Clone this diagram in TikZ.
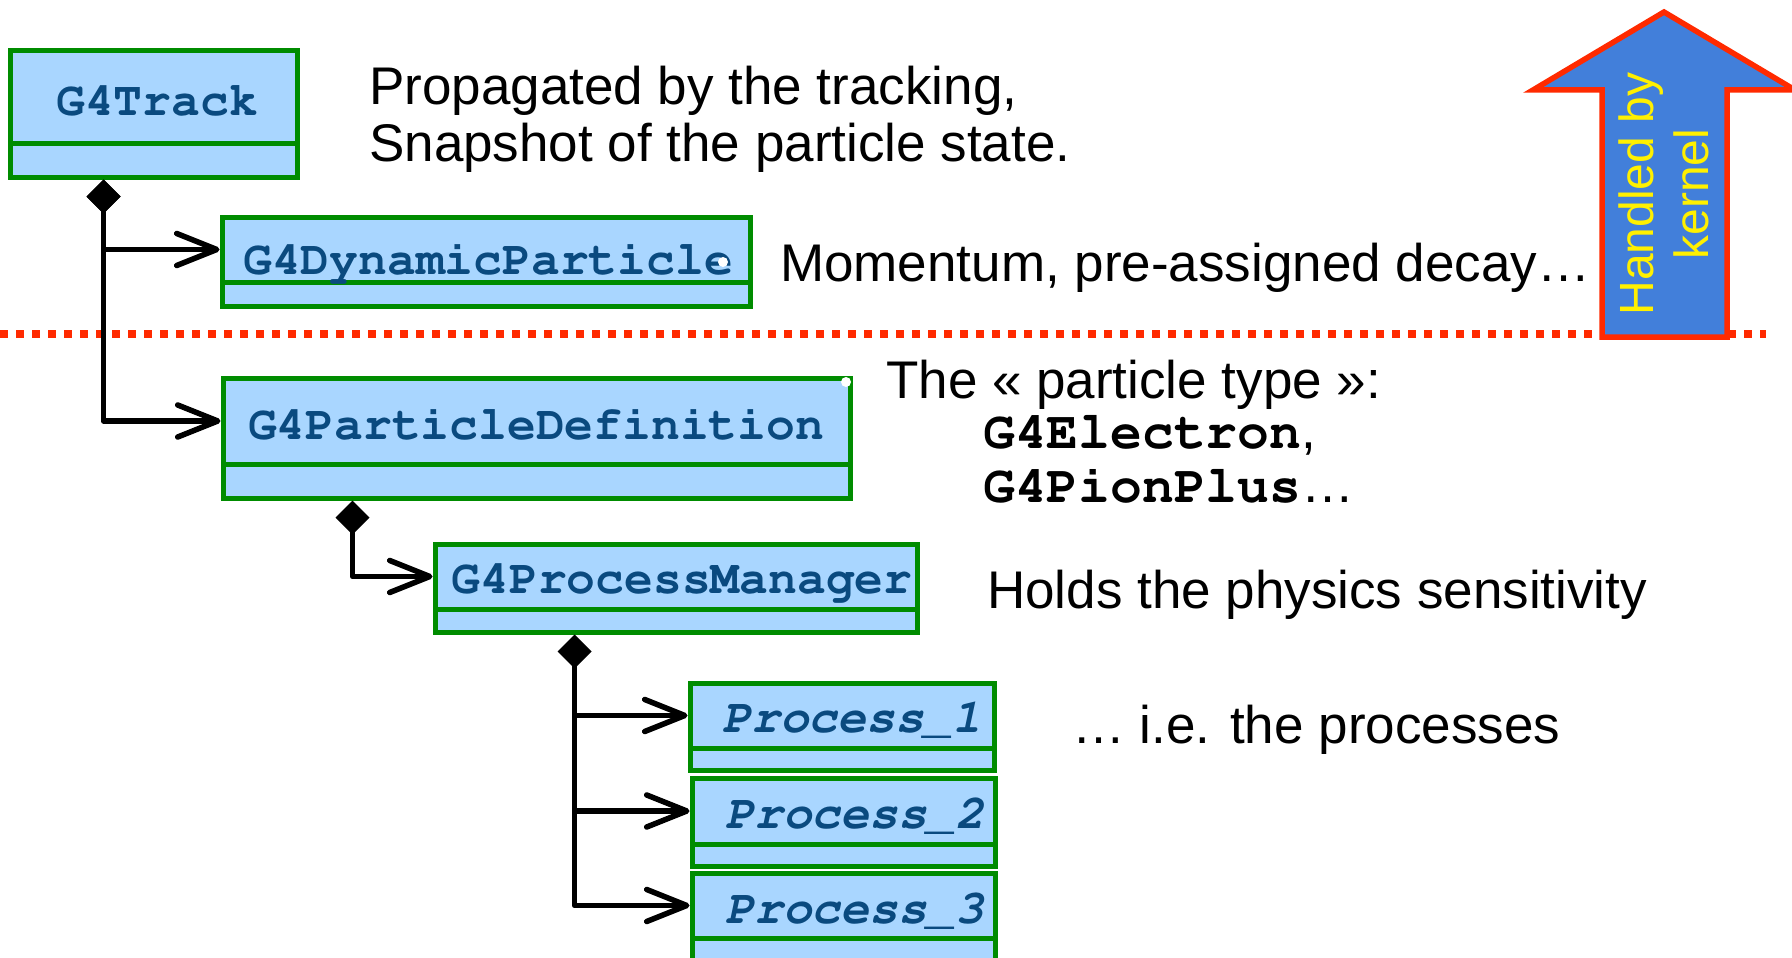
\documentclass[tikz,border=0pt]{standalone}
\usepackage[T1]{fontenc}
\usepackage{fontspec}
\setmainfont{Liberation Sans}
\setmonofont{Liberation Mono}
\usetikzlibrary{arrows.meta}
\definecolor{clsfill}{HTML}{A9D6FF}
\definecolor{clsline}{HTML}{008C00}
\definecolor{clstext}{HTML}{0A4A7F}
\definecolor{kernfill}{HTML}{427FDA}
\definecolor{kernline}{HTML}{FF2A00}
\definecolor{kerntext}{HTML}{FFF000}
% Courier bold for class names
\newcommand\courb{\fontencoding{T1}\fontfamily{pcr}\fontseries{b}\selectfont}
% a UML class: name compartment (#1) above an empty compartment (#1A)
\newcommand\umlclass[6]{%
  \node[part, minimum width={#3-#2}, minimum height={#5-#4}] (#1) at ({(#2+#3)/2},{(#4+#5)/2}) {};
  \node[part, minimum width={#3-#2}, minimum height={#6-#5}] (#1A) at ({(#2+#3)/2},{(#5+#6)/2}) {};
}
\begin{document}
\begin{tikzpicture}[x=1pt,y=-1pt,
  part/.style={rectangle, draw=clsline, fill=clsfill, line width=5pt, inner sep=0pt},
  clsname/.style={anchor=base, inner sep=0pt, text=clstext,
    font=\fontsize{48}{48}\courb},
  procname/.style={clsname, font=\fontsize{48}{48}\courb\fontshape{sl}\selectfont},
  note/.style={anchor=base west, inner sep=0pt, font=\fontsize{53}{55}\selectfont},
  link/.style={line width=5.5pt, line join=round,
    arrows={Diamond[length=34pt,width=34pt]-Straight Barb[length=40pt,width=32pt,round]}},
  branch/.style={line width=5.5pt, line join=round,
    arrows={-Straight Barb[length=40pt,width=32pt,round]}},
  handle/.style={circle, fill=white, inner sep=0pt, minimum size=10pt}
]
\useasboundingbox (0,0) rectangle (1792,958);

% separator between user and kernel level
\draw[kernline, line width=8.5pt, dash pattern=on 8pt off 8pt] (0,334) -- (1766,334);

% kernel arrow
\draw[kernline, fill=kernfill, line width=5.5pt, line join=miter]
  (1602,337) -- (1602,90) -- (1533,90) -- (1664,12) -- (1795,90) -- (1727,90) -- (1727,337) -- cycle;
\node[rotate=90, align=center, text=kerntext, inner sep=0pt,
  font=\fontsize{48}{55}\selectfont] (kern) at (1664,194) {Handled by\\kernel};

% classes
\umlclass{track}{10}{297}{51}{143}{177}
\umlclass{dyn}{222}{750}{217}{282}{306}
\umlclass{pdef}{223}{850}{378}{464}{498}
\umlclass{pman}{435}{917}{544}{609}{632}
\umlclass{proc1}{690}{994}{683}{748}{770}
\umlclass{proc2}{692}{995}{778}{844}{866}
\umlclass{proc3}{692}{995}{873}{938}{975}

\node[clsname] (trackT) at (157,115) {G4Track};
\node[clsname] (dynT) at (488,274) {G4DynamicParticle};
\node[clsname] (pdefT) at (536,439) {G4ParticleDefinition};
\node[clsname] (pmanT) at (682,593) {G4ProcessManager};
\node[procname] (proc1T) at (852,732) {Process\_1};
\node[procname] (proc2T) at (855,828) {Process\_2};
\node[procname] (proc3T) at (855,923) {Process\_3};

\node[handle] (h1) at (723,262) {};
\node[handle] (h2) at (846,382) {};

% composition links
\draw[link] ([xshift=96pt]trackA.south west) |- (dyn.west);
\draw[link] ([xshift=96pt]trackA.south west) |- (pdef.west);
\draw[link] ([xshift=132pt]pdefA.south west) |- (pman.west);
\draw[link] ([xshift=142pt]pmanA.south west) |- (proc1.west);
\draw[branch] ([xshift=142pt,yshift=-60pt]pmanA.south west) |- (proc2.west);
\draw[branch] ([xshift=142pt,yshift=-60pt]pmanA.south west) |- (proc3.west);

% notes
\node[note] (n1) at (369,105) {Propagated by the tracking,};
\node[note] (n2) at (369,161) {Snapshot of the particle state.};
\node[note] (n3) at (780,281) {Momentum, pre-assigned decay…};
\node[note] (n4) at (886,398) {The « particle type »:};
\node[note] (n5) at (983,448) {{\fontsize{53}{55}\courb G4Electron},};
\node[note] (n6) at (983,502) {{\fontsize{53}{55}\courb G4PionPlus}…};
\node[note] (n7) at (987,608) {Holds the physics sensitivity};
\node[note] (n8) at (1072,743) {… i.e. the processes};
\end{tikzpicture}
\end{document}
